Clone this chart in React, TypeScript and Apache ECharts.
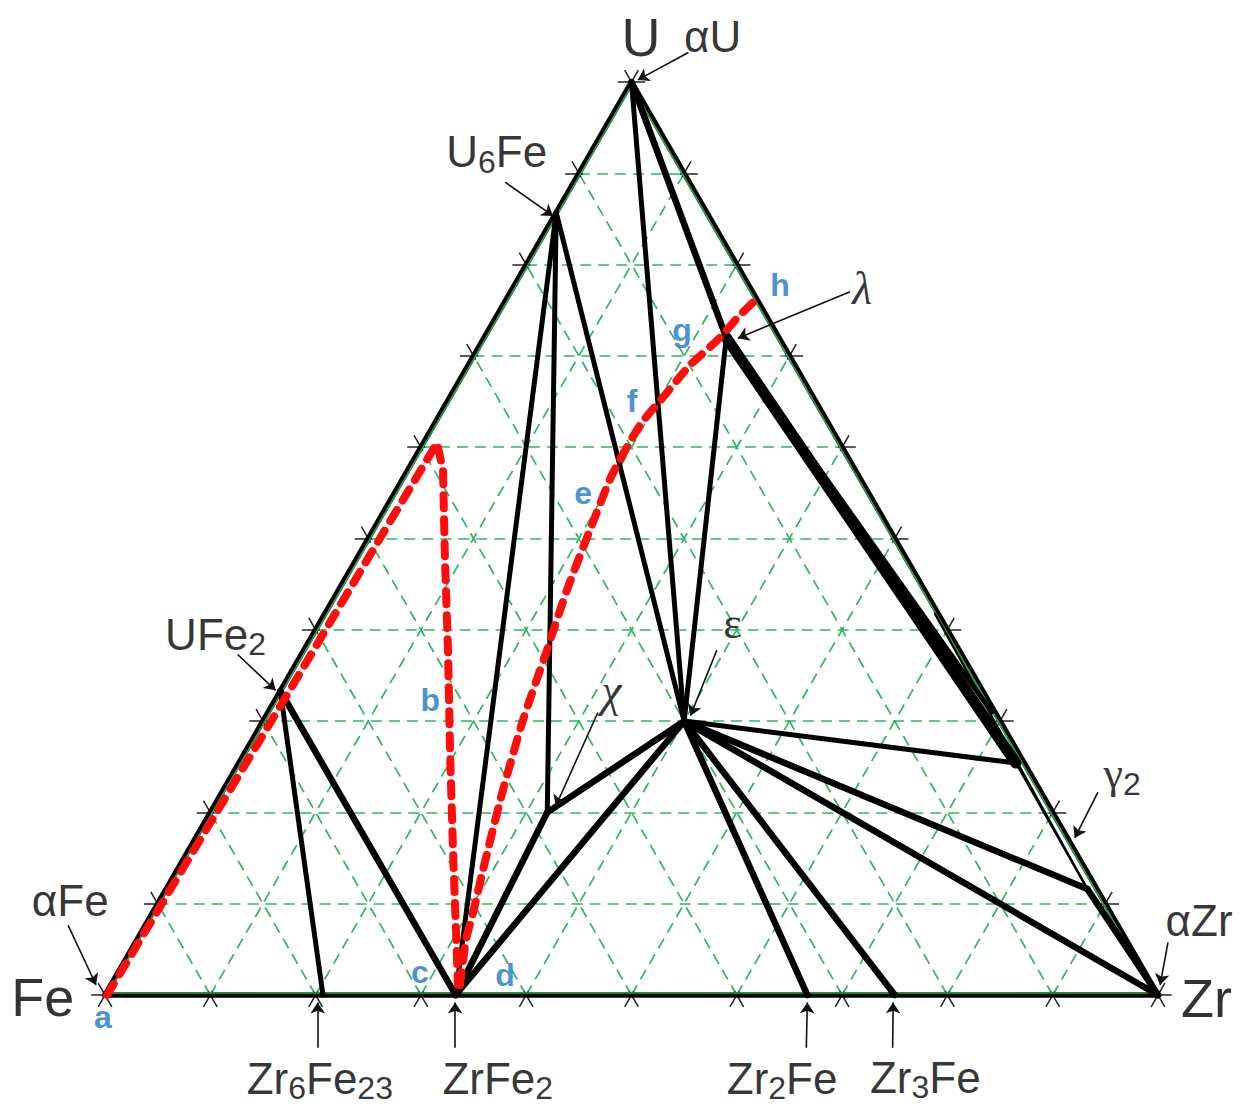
import React, { useEffect, useRef } from "react";
import * as echarts from "echarts";

type T = [number, number]; // ternary point: [Zr at.%, U at.%], Fe = 100 - Zr - U
type P = [number, number]; // plain cartesian point (X, Y) in triangle-side percent units

// ---------- phase points (ternary) ----------
const FE: T = [0, 0];
const ZR: T = [100, 0];
const U: T = [0, 100];
const U6Fe: T = [0, 85.7];
const UFe2: T = [0, 33.3];
const Zr6Fe23: T = [20.7, 0];
const ZrFe2: T = [33.3, 0];
const Zr2Fe: T = [66.7, 0];
const Zr3Fe: T = [75, 0];
const EPS: T = [40, 30];
const CHI: T = [32, 20];
const LAMBDA: T = [23, 72];
const G2_UP: T = [73.8, 25.4];
const G2_LOW: T = [87.5, 11.6];
const BAND_END: T = [68.7, 31];
const G2_THIN_START: T = [57.9, 41.8];

// grid levels and tick levels (at.%)
const gridLevels = [10, 20, 30, 40, 50, 60, 70, 80, 90];
const tickLevels = [0, 10, 20, 30, 40, 50, 60, 70, 80, 90, 100];

// ---------- tie lines ----------
const edges: [T, T][] = [[FE, ZR], [ZR, U], [U, FE]];
const heavyTies: [T, T][] = [
  [UFe2, ZrFe2], [ZrFe2, CHI], [CHI, EPS], [ZrFe2, EPS], [EPS, Zr2Fe],
  [EPS, Zr3Fe], [EPS, ZR], [EPS, G2_LOW], [G2_LOW, ZR], [U, LAMBDA],
];
const mediumTies: [T, T][] = [
  [UFe2, Zr6Fe23], [U6Fe, ZrFe2], [U6Fe, CHI], [U6Fe, EPS], [U, EPS],
  [LAMBDA, EPS], [EPS, G2_UP],
];
const bandTies: [T, T][] = [[LAMBDA, G2_UP]];
const bandInnerTies: [T, T][] = [[LAMBDA, BAND_END]];
const thinTies: [T, T][] = [[G2_THIN_START, G2_LOW], [G2_UP, G2_LOW]];

// ---------- red dashed paths (ternary) ----------
const pathABC: T[] = [
  [0.2, 0], [0.53, 16.98], [0.86, 33.41], [1.07, 48.19], [1.3, 60.46],
  [3.35, 57.5], [8.46, 47.65], [13.68, 37.79], [19.35, 26.83], [25.11, 15.88],
  [29.77, 7.12], [32.97, 1.1],
];
const pathDEFGH: T[] = [
  [33.16, 1.1], [31.27, 6.02], [30.46, 8.98], [29.05, 13.69], [26.57, 22.45],
  [24.64, 30.12], [23.08, 37.79], [21.69, 44.36], [20.59, 50.93], [19.67, 56.95],
  [19.6, 62.43], [20.32, 65.72], [21.06, 69.0], [22.3, 71.74], [23.06, 74.48],
  [23.92, 76.56],
];

// ---------- annotations ----------
const labelTexts = [
  "{big|U}", "{lab|αU}", "{lab|U}{sub|6}{lab|Fe}", "{gi|λ}", "{gr|ε}", "{gi|χ}",
  "{lab|UFe}{sub|2}", "{gr|γ}{sub|2}", "{lab|αFe}", "{big|Fe}", "{lab|αZr}", "{big|Zr}",
  "{lab|Zr}{sub|6}{lab|Fe}{sub|23}", "{lab|ZrFe}{sub|2}", "{lab|Zr}{sub|2}{lab|Fe}",
  "{lab|Zr}{sub|3}{lab|Fe}",
  "{blue|a}", "{blue|b}", "{blue|c}", "{blue|d}", "{blue|e}", "{blue|f}", "{blue|g}", "{blue|h}",
];
const labelAt: P[] = [
  [50.9, 90.9], [57.7, 90.9], [37.2, 80.0], [71.9, 67.0], [59.6, 35.2], [48.1, 28.9],
  [10.5, 34.2], [96.6, 21.0], [-3.3, 9.0], [-5.9, -0.2], [103.9, 7.1], [104.6, -0.3],
  [20.4, -7.9], [37.3, -7.9], [64.3, -7.9], [77.9, -7.8],
  [-0.2, -2.1], [30.9, 28.0], [29.9, 2.2], [38.0, 1.9], [45.4, 47.6], [50.05, 56.3], [54.8, 63.1], [64.1, 67.3],
];
const arrows: [P, P][] = [
  [[55.4, 89.4], [50.6, 86.8]],
  [[38.0, 77.1], [42.55, 73.9]],
  [[70.75, 66.7], [60.1, 62.3]],
  [[58.1, 32.7], [55.6, 26.5]],
  [[46.8, 26.8], [42.8, 17.9]],
  [[12.6, 32.3], [16.2, 28.9]],
  [[94.3, 19.25], [92.1, 14.9]],
  [[-3.5, 6.6], [-0.85, 0.95]],
  [[100.95, 5.0], [100.2, 0.95]],
  [[20.2, -5.0], [20.2, -0.7]],
  [[33.25, -5.0], [33.25, -0.7]],
  [[66.6, -5.0], [66.7, -0.7]],
  [[74.8, -5.0], [74.85, -0.7]],
];

// ---------- helpers ----------
const SQ = Math.sqrt(3) / 2;
const toXY = (p: T): P => [p[0] + p[1] / 2, p[1] * SQ];
const seg = (a: T, b: T) => ({ coords: [toXY(a), toXY(b)] });
const TICK = 1.3;
const TIN = 0.4;
const GE = 0.2; // green edge inset

function tickSegments() {
  const out: any[] = [];
  tickLevels.forEach((k) => {
    out.push(seg([k, TIN], [k, -TICK]));
    out.push(seg([k - TIN, TIN], [k + TICK, -TICK]));
    out.push(seg([TIN, k], [-TICK, k]));
    out.push(seg([TIN, k - TIN], [-TICK, k + TICK]));
    out.push(seg([100 - k - TIN, k], [100 - k + TICK, k]));
    out.push(seg([100 - k, k - TIN], [100 - k, k + TICK]));
  });
  return out;
}

function gridSegments() {
  return gridLevels.flatMap((v) => [
    seg([0, v], [100 - v, v]),
    seg([v, 0], [v, 100 - v]),
    seg([v, 0], [0, v]),
  ]);
}

function greenEdges() {
  const a: T = [GE, GE];
  const b: T = [100 - 2 * GE, GE];
  const c: T = [GE, 100 - 2 * GE];
  return [seg(a, b), seg(b, c), seg(c, a)];
}

const linesSeries = (data: any[], color: string, width: number, z: number, extra: any = {}) => ({
  type: "lines",
  coordinateSystem: "cartesian2d",
  polyline: false,
  silent: true,
  z,
  data,
  lineStyle: { color, width, opacity: 1, cap: "round", ...extra },
});

export default function App() {
  const ref = useRef<HTMLDivElement>(null);
  useEffect(() => {
    if (!ref.current) return;
    const chart = echarts.init(ref.current, undefined, { renderer: "svg" });
    const pxX = 1053 / 100;
    const pxY = 913 / (100 * SQ);
    const xMin = -105 / pxX;
    const xMax = xMin + 1247 / pxX;
    const yMax = 995 / pxY;
    const yMin = -(1106 - 995) / pxY;

    const sans = "'Liberation Sans', Arial, sans-serif";
    const serif = "'Liberation Serif', 'DejaVu Serif', serif";
    const red = { color: "#ff0d0d", width: 8, type: [13, 11], cap: "round" };

    chart.setOption({
      animation: false,
      backgroundColor: "#ffffff",
      grid: { left: 0, right: 0, top: 0, bottom: 0, containLabel: false },
      xAxis: { type: "value", min: xMin, max: xMax, show: false, splitLine: { show: false } },
      yAxis: { type: "value", min: yMin, max: yMax, show: false, splitLine: { show: false } },
      series: [
        linesSeries(gridSegments(), "#2cb661", 1.7, 1, { type: [11, 7], cap: "butt" }),
        linesSeries(tickSegments(), "#222222", 1.5, 2, { cap: "butt" }),
        linesSeries(edges.map(([a, b]) => seg(a, b)), "#000000", 5.5, 3),
        linesSeries(greenEdges(), "#22a454", 1.6, 4),
        linesSeries(mediumTies.map(([a, b]) => seg(a, b)), "#000000", 5, 5),
        linesSeries(heavyTies.map(([a, b]) => seg(a, b)), "#000000", 6.5, 5),
        linesSeries(bandTies.map(([a, b]) => seg(a, b)), "#000000", 11, 5),
        linesSeries(bandInnerTies.map(([a, b]) => seg(a, b)), "#000000", 5, 5),
        linesSeries(thinTies.map(([a, b]) => seg(a, b)), "#000000", 2.2, 5),
        {
          type: "line",
          silent: true,
          z: 7,
          clip: false,
          showSymbol: false,
          smooth: false,
          data: pathABC.map(toXY),
          lineStyle: red,
        },
        {
          type: "line",
          silent: true,
          z: 7,
          clip: false,
          showSymbol: false,
          smooth: 0.2,
          data: pathDEFGH.map(toXY),
          lineStyle: red,
        },
        {
          type: "lines",
          coordinateSystem: "cartesian2d",
          silent: true,
          z: 8,
          symbol: ["none", "arrow"],
          symbolSize: 11,
          data: arrows.map(([a, b]) => ({ coords: [a, b] })),
          lineStyle: { color: "#111111", width: 1.6, opacity: 1 },
        },
        {
          type: "scatter",
          silent: true,
          z: 9,
          symbolSize: 0,
          clip: false,
          data: labelAt.map((p, i) => ({ value: p, label: { formatter: labelTexts[i] } })),
          label: {
            show: true,
            position: "inside",
            rich: {
              big: { fontSize: 54, fontFamily: sans, color: "#000" },
              lab: { fontSize: 44, fontFamily: sans, color: "#000" },
              sub: { fontSize: 32, fontFamily: sans, color: "#000", padding: [20, 0, 0, 0] },
              gi: { fontSize: 46, fontFamily: serif, fontStyle: "italic", color: "#000" },
              gr: { fontSize: 44, fontFamily: serif, color: "#000" },
              blue: { fontSize: 32, fontFamily: sans, fontWeight: "bold", color: "#1a74c8" },
            },
          },
        },
      ],
    });
    return () => chart.dispose();
  }, []);
  return (
    <div
      ref={ref}
      style={{ position: "absolute", left: 0, top: 0, width: 1247, height: 1106, background: "#fff" }}
    />
  );
}
